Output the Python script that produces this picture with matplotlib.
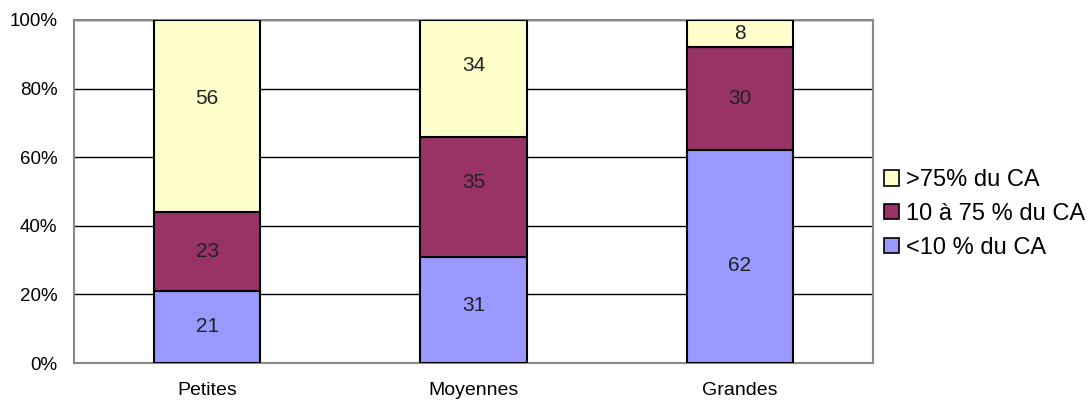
import matplotlib
matplotlib.use("Agg")
import matplotlib.pyplot as plt
from matplotlib.patches import Patch
from matplotlib.ticker import FuncFormatter

plt.rcParams['font.family'] = ['Liberation Sans', 'DejaVu Sans']

categories = ["Petites", "Moyennes", "Grandes"]
series_names = ["<10 % du CA", "10 à 75 % du CA", ">75% du CA"]
low = [21, 31, 62]
mid = [23, 35, 30]
high = [56, 34, 8]
colors = ["#9999FF", "#993366", "#FFFFCC"]
yticks = [0, 20, 40, 60, 80, 100]

# label nudges (in % units) to mimic the reference label placement
label_nudge = [[0, 1.4, -2.7], [0, 4.1, 0], [5.0, 3.8, 0]]

W, H = 1091, 400
fig = plt.figure(figsize=(W / 100, H / 100), dpi=100)
ax = fig.add_axes([74 / W, (H - 363) / H, (873 - 74) / W, (363 - 20) / H])

x = list(range(len(categories)))
bottom = [0] * len(categories)
for vals, col, name, nudge in zip([low, mid, high], colors, series_names, label_nudge):
    ax.bar(x, vals, width=0.40, bottom=bottom, color=col,
           edgecolor="black", linewidth=1.5, zorder=3, label=name)
    for xi, b, v, n in zip(x, bottom, vals, nudge):
        ax.text(xi, b + v / 2 + n, str(v), ha="center", va="center",
                fontsize=15, color="#222222", zorder=4)
    bottom = [b + v for b, v in zip(bottom, vals)]

ax.set_xlim(-0.5, 2.5)
ax.set_ylim(0, 100)
ax.set_yticks(yticks)
ax.yaxis.set_major_formatter(FuncFormatter(lambda v, p: f"{int(v)}%"))
ax.set_xticks(x)
ax.set_xticklabels(categories)
ax.tick_params(axis="both", length=0, colors="black")
ax.tick_params(axis="x", pad=13.5, labelsize=14)
ax.tick_params(axis="y", pad=12, labelsize=13.5)
ax.grid(axis="y", color="black", linewidth=1, zorder=0)
for s in ax.spines.values():
    s.set_color("#888888")
    s.set_linewidth(1.5)

handles = [Patch(facecolor=c, edgecolor="black", linewidth=1.2) for c in colors][::-1]
labels = series_names[::-1]
fig.legend(handles, labels, loc="center left", bbox_to_anchor=(884 / W, 1 - 214 / H),
           frameon=False, fontsize=17, handlelength=0.62, handleheight=0.62,
           handletextpad=0.3, labelspacing=0.5, borderaxespad=0, borderpad=0)

fig.savefig("out.png", dpi=100)
